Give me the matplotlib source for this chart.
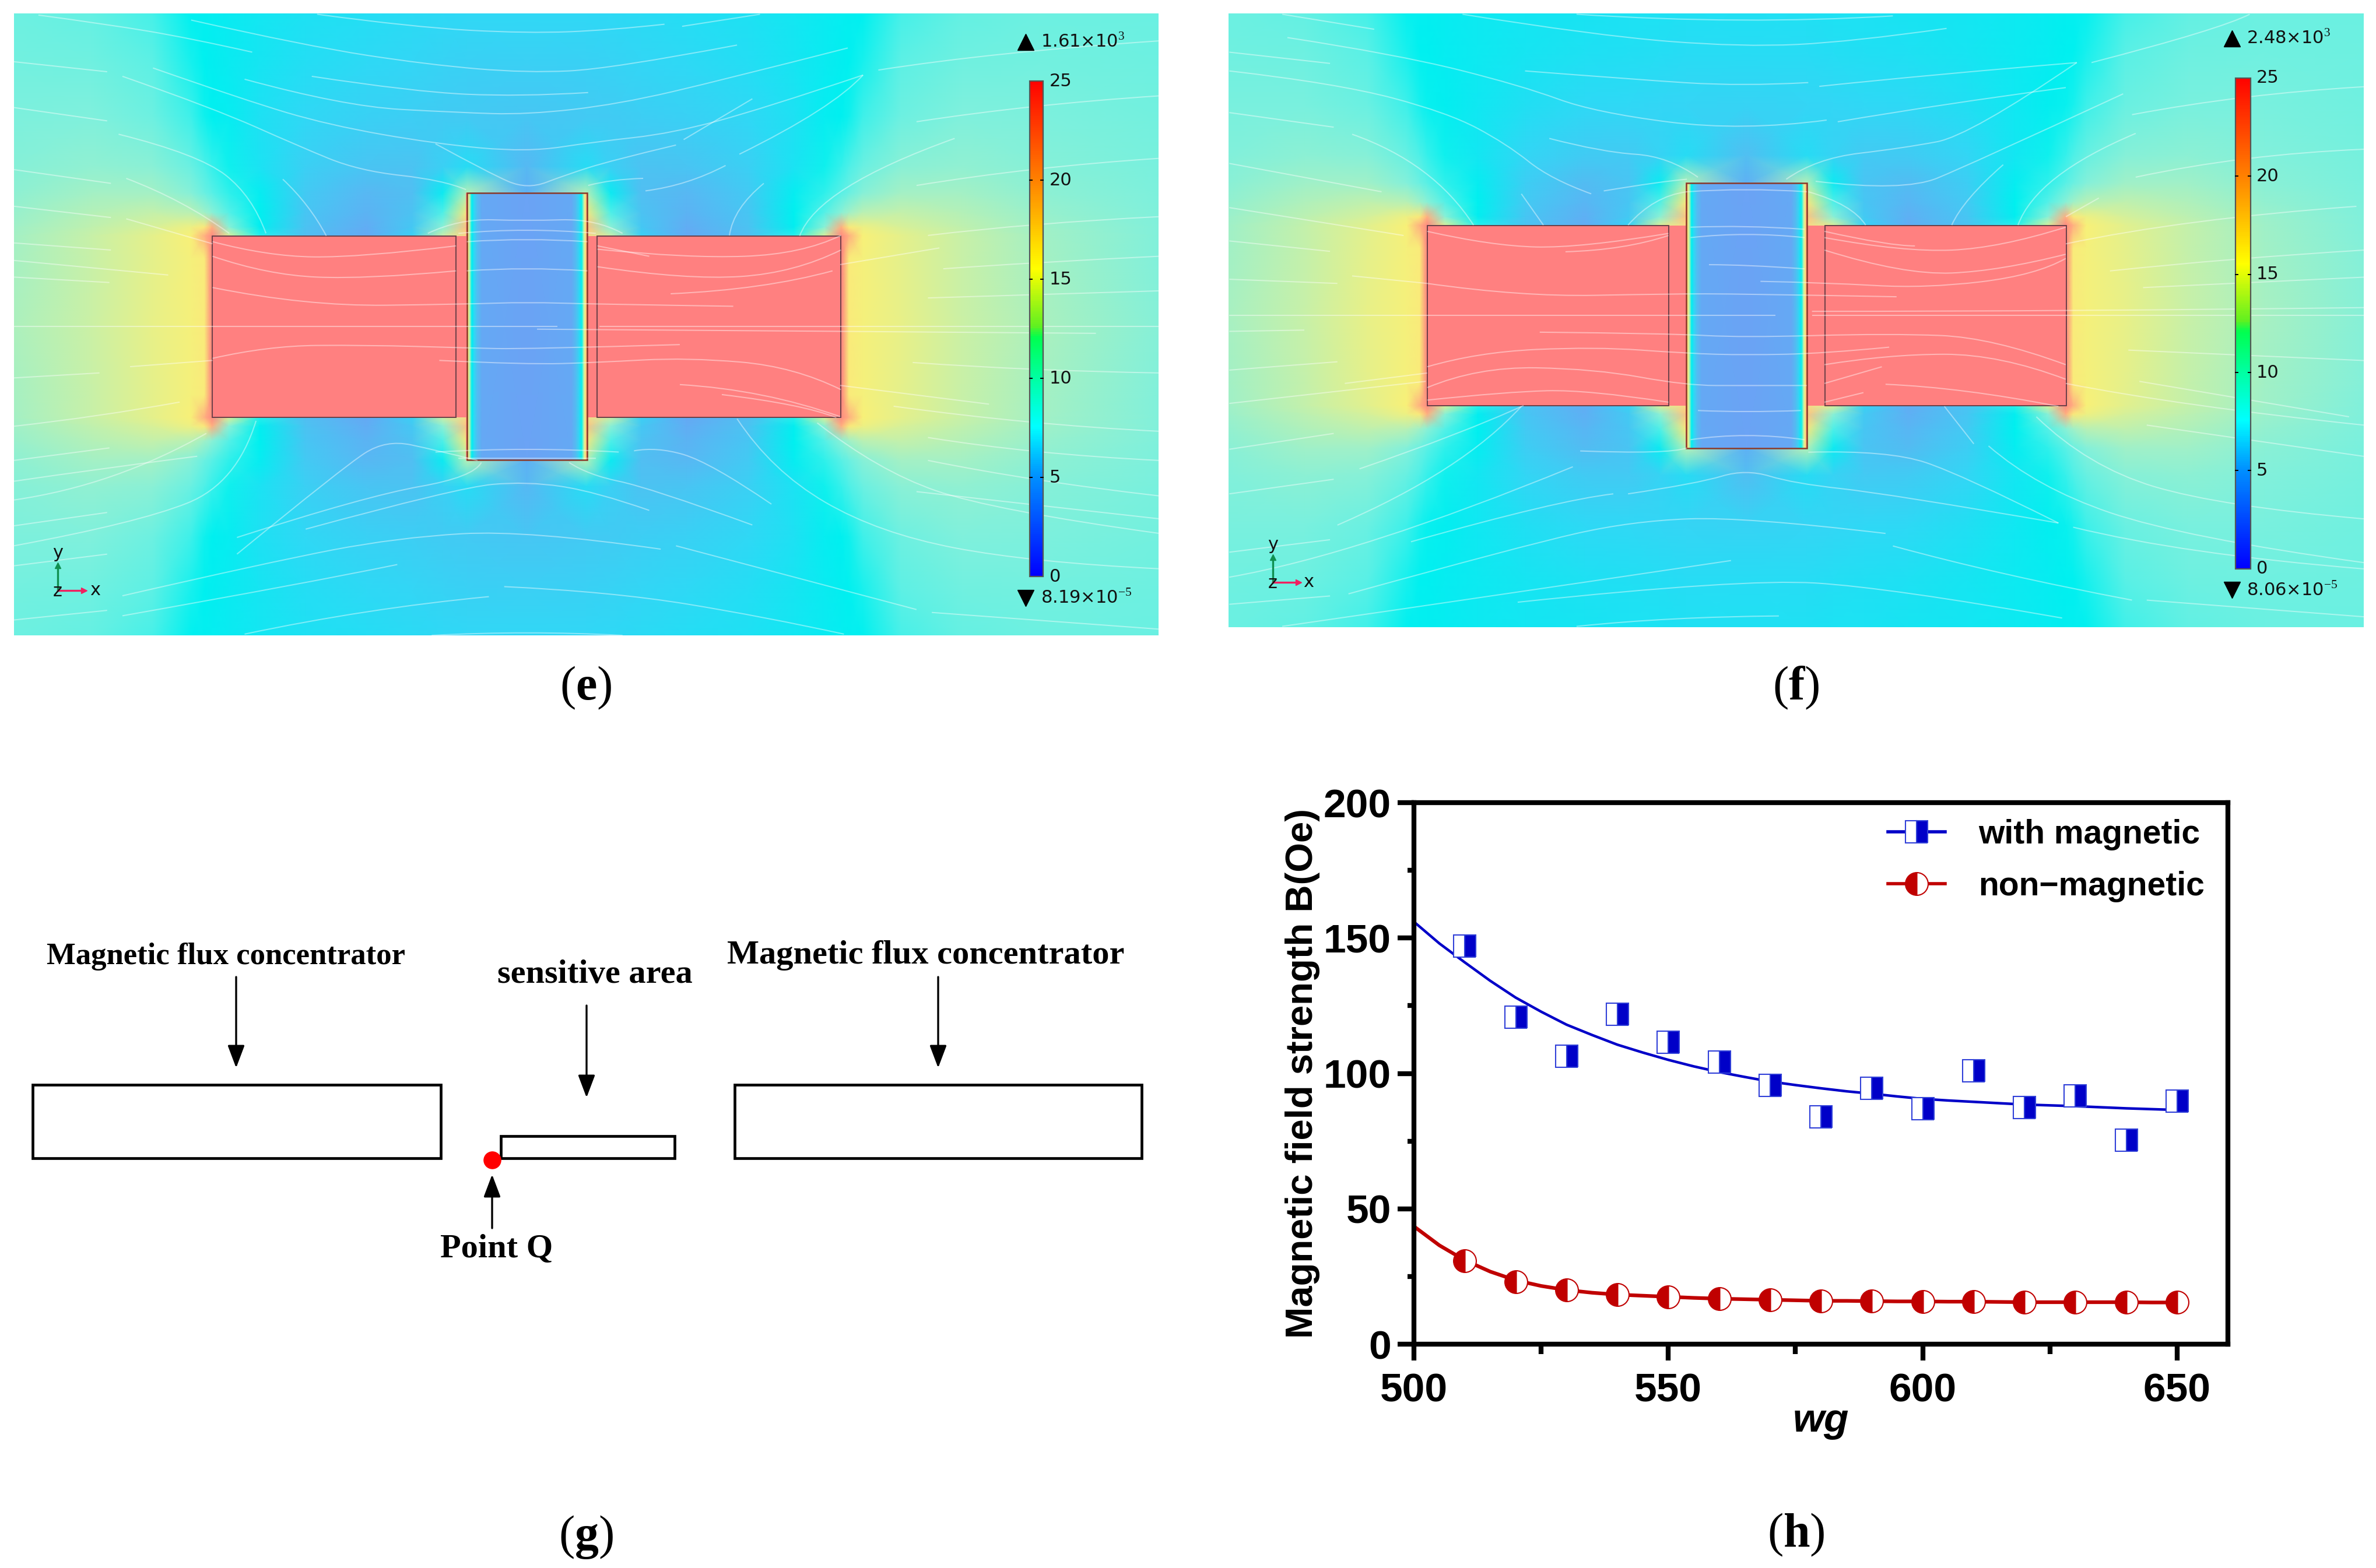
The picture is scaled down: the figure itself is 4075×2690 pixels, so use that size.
import numpy as np
import matplotlib
matplotlib.use("Agg")
import matplotlib.pyplot as plt
from matplotlib.colors import LinearSegmentedColormap
from matplotlib.lines import Line2D
from matplotlib.patches import Rectangle, PathPatch
from matplotlib.path import Path

W, H = 4075, 2690
plt.rcParams['mathtext.fontset'] = 'custom'
plt.rcParams['mathtext.rm'] = 'Liberation Serif'
plt.rcParams['mathtext.bf'] = 'Liberation Serif:bold'

# ---------- panel (h) data ----------
wg = [510, 520, 530, 540, 550, 560, 570, 580, 590, 600, 610, 620, 630, 640, 650]
with_magnetic = [147, 120.7, 106.4, 121.9, 111.6, 104.2, 95.6, 84, 94.6, 86.9, 100.9, 87.5, 91.8, 75.3, 89.7]
non_magnetic = [30.7, 23, 20, 18.3, 17.5, 16.8, 16.4, 16, 15.9, 15.8, 15.7, 15.5, 15.5, 15.5, 15.4]
fit_wg = [500, 505, 510, 515, 520, 525, 530, 535, 540, 545, 550, 555, 560, 565, 570, 575, 580, 585, 590, 595, 600, 605, 610, 615, 620, 625, 630, 635, 640, 645, 650]
fit_with = [156, 148, 141, 134.2, 128, 122.8, 118, 114.2, 110.6, 107.7, 105, 102.6, 100.5, 98.7, 97, 95.7, 94.5, 93.4, 92.5, 91.5, 90.6, 90, 89.5, 89, 88.5, 88.2, 87.9, 87.5, 87.1, 86.8, 86.5]
fit_non = [43.5, 36.5, 31, 26.8, 23.6, 21.5, 20, 19, 18.3, 17.9, 17.5, 17.1, 16.8, 16.6, 16.4, 16.2, 16, 16, 15.9, 15.8, 15.8, 15.7, 15.7, 15.6, 15.5, 15.5, 15.5, 15.5, 15.5, 15.4, 15.4]
x_ticks = [500, 550, 600, 650]
y_ticks = [0, 50, 100, 150, 200]

# ---------- panels (e)/(f) field grids: distance from centre -> field value ----------
e_dx = [0, 78, 110, 150, 210, 290, 350, 390, 412, 422, 440, 490, 570, 672, 828]
e_dy = [0, 164, 218, 239, 274, 321, 384, 504, 634, 752]
e_field = [
    [3, 20, 25, 25, 25, 25, 25, 25, 25, 16.8, 16.2, 15, 13.2, 11.6, 9.8],
    [3, 20, 25, 25, 25, 25, 25, 25, 25, 16.8, 16.2, 14.8, 13, 11.3, 9.6],
    [3, 18, 13, 5, 2.6, 4, 7.5, 14, 24, 20, 16.5, 14.8, 13, 11.2, 9.6],
    [3, 19, 10, 4.5, 2.8, 4.2, 6.9, 10, 20, 17, 15.5, 14, 12.6, 11, 9.6],
    [3, 17, 8, 4.2, 3.2, 4.4, 7, 8.2, 10, 11, 12.3, 12.8, 12, 10.6, 9.5],
    [3, 12, 6.6, 4, 3.5, 4.6, 6.8, 7.6, 8.3, 8.8, 9.8, 11.2, 11.2, 10.2, 9.4],
    [3.6, 5.8, 5, 4.2, 4.3, 5, 6.2, 7.2, 7.7, 8, 8.8, 10, 10.3, 9.8, 9.3],
    [4.4, 4.6, 4.7, 4.9, 5.1, 5.5, 6.1, 6.8, 7, 7.2, 7.8, 8.9, 9.5, 9.4, 9.1],
    [5, 5.1, 5.2, 5.4, 5.6, 5.9, 6.3, 6.7, 6.9, 7, 7.3, 8.4, 9, 9.1, 8.9],
    [5.5, 5.5, 5.6, 5.7, 5.9, 6.1, 6.4, 6.7, 6.85, 6.9, 7, 7.9, 8.6, 8.9, 8.8],
]
f_dx = [0, 82, 118, 160, 220, 300, 365, 410, 434, 444, 462, 515, 600, 704, 840]
f_dy = [0, 162, 216, 237, 272, 318, 384, 504, 634, 760]
f_field = [
    [3, 20, 25, 25, 25, 25, 25, 25, 25, 16.8, 16.2, 15, 13, 11.4, 9.8],
    [3, 20, 25, 25, 25, 25, 25, 25, 25, 16.8, 16.2, 14.8, 12.8, 11.1, 9.7],
    [3, 18, 14, 5.2, 2.8, 4.2, 7.5, 14, 24, 20, 16.5, 14.6, 12.8, 11, 9.5],
    [3, 19, 10, 4.6, 3, 4.4, 6.9, 10, 20, 17, 15.5, 13.8, 12.4, 10.8, 9.5],
    [3, 17, 8, 4.4, 3.4, 4.6, 7, 8.2, 10, 11, 12.2, 12.6, 11.8, 10.4, 9.4],
    [3, 12, 6.6, 4.3, 3.8, 4.9, 6.8, 7.6, 8.3, 8.8, 9.7, 11, 11, 10, 9.3],
    [4, 5.8, 5.2, 4.6, 4.7, 5.4, 6.4, 7.2, 7.7, 8, 8.7, 9.8, 10.1, 9.6, 9.2],
    [5.2, 5.3, 5.4, 5.5, 5.6, 6, 6.5, 6.9, 7.1, 7.3, 7.8, 8.8, 9.3, 9.3, 9],
    [5.8, 5.8, 5.9, 6, 6.1, 6.3, 6.6, 6.8, 7, 7, 7.3, 8.3, 8.9, 9, 8.9],
    [6.1, 6.1, 6.2, 6.2, 6.3, 6.4, 6.6, 6.8, 6.9, 6.9, 7, 7.8, 8.5, 8.8, 8.8],
]
strip_dx = [0, 58, 64, 68, 71, 74, 76, 78]
strip_field = [2.2, 2.6, 4, 5.5, 7, 13, 17, 25]

e_streams = [
    [(415,34),(540,65),(690,80),(800,72),(870,58)], [(893,63),(995,34)],
    [(250,48),(400,110),(560,155),(690,175),(800,165),(965,108)], [(50,36),(140,58),(250,92),(330,125)],
    [(408,183),(540,220),(680,232),(770,222)], [(320,190),(450,255),(600,270),(690,275),(810,250),(950,190),(1110,115)],
    [(200,163),(320,240),(430,300),(570,345),(690,365),(780,340),(880,320),(1000,260),(1130,180)],
    [(160,183),(280,260),(390,350),(470,410),(580,432),(610,455)], [(570,345),(640,415),(690,455),(740,420),(800,385),(885,348)],
    [(895,335),(985,237)], [(968,370),(1090,260),(1130,180)], [(845,458),(900,445),(950,397)], [(770,445),(800,430),(842,428)],
    [(18,148),(140,172)], [(18,258),(140,290)], [(18,407),(145,440)], [(18,495),(145,522)], [(18,583),(145,600)],
    [(18,625),(220,660)], [(18,665),(143,678)], [(18,907),(130,895)], [(170,880),(278,865)],
    [(18,1023),(130,1000),(235,965)], [(18,1105),(143,1075)], [(18,1155),(130,1125),(258,1095)],
    [(18,1200),(150,1165),(270,1040)], [(18,1262),(140,1230)], [(18,1310),(180,1255),(310,1160),(335,1010)],
    [(18,1358),(140,1330)], [(18,1488),(140,1465)], [(155,322),(260,370),(330,470),(348,560)],
    [(165,428),(240,480),(300,560)], [(370,430),(405,490),(427,566)], [(165,525),(278,585)],
    [(1150,168),(1300,125),(1517,98)], [(1200,292),(1350,250),(1517,230)], [(1200,445),(1350,400),(1517,380)],
    [(1215,565),(1350,535),(1517,520)], [(1235,645),(1350,630),(1517,615)], [(1100,635),(1230,595)],
    [(1000,440),(960,500),(955,565)], [(1047,566),(1070,450),(1250,332)], [(1215,715),(1517,698)],
    [(1195,870),(1350,890),(1517,895)], [(1170,975),(1350,1020),(1517,1035)], [(1100,925),(1295,970)],
    [(1215,1050),(1350,1090),(1517,1105)], [(1215,1105),(1350,1155),(1517,1190)], [(1200,1180),(1517,1245)],
    [(1070,1015),(1150,1130),(1300,1225),(1517,1280)], [(1220,1470),(1517,1510)], [(885,1310),(1050,1390),(1200,1463)],
    [(965,1005),(1010,1130),(1150,1280),(1350,1350),(1517,1365)], [(310,1330),(450,1120),(505,1055),(570,1080),(625,1105)],
    [(160,1430),(350,1350),(520,1290),(690,1272),(865,1318)], [(160,1478),(400,1400),(520,1355)],
    [(320,1522),(480,1460),(640,1432)], [(660,1408),(800,1420),(1000,1480),(1105,1522)], [(565,1525),(690,1513),(815,1525)],
    [(400,1270),(600,1170),(690,1155),(780,1180),(850,1225)], [(310,1290),(480,1190),(620,1145),(630,1110)],
    [(745,1110),(770,1140),(850,1170),(985,1260)], [(830,1082),(860,1072),(930,1110),(1010,1210)],
    [(278,580),(350,615),(470,618),(597,590)], [(278,615),(350,660),(480,670),(597,650)],
    [(278,690),(400,735),(611,730),(689,725),(780,730),(960,735)], [(18,784),(730,784)], [(703,790),(1100,795),(1435,800)],
    [(785,784),(1517,784)], [(278,860),(350,830),(480,828),(611,835),(689,838),(890,827)],
    [(575,865),(689,875),(782,870),(900,858),(1040,880),(1101,935)], [(890,923),(1000,935),(1100,1000)],
    [(945,947),(1050,970),(1095,1002)], [(782,590),(850,615)], [(782,598),(900,620),(1050,610),(1101,565)],
    [(782,640),(900,672),(1040,655),(1101,600)], [(878,705),(1000,695),(1090,650)],
    [(560,560),(600,525),(689,530),(780,525),(815,560)], [(600,560),(689,545),(780,560)], [(611,580),(689,570),(769,580)],
    [(611,650),(689,640),(769,650)], [(570,1085),(690,1072),(810,1085)], [(600,1100),(689,1100),(780,1100)],
]
f_streams = [
    [(475,34),(700,60),(905,38)], [(320,34),(500,85),(700,113),(850,100),(978,68)], [(75,34),(200,70)],
    [(82,90),(230,130),(400,205),(500,270),(700,315),(815,288)], [(805,207),(950,180),(1155,150)], [(405,170),(550,190),(700,207),(790,198)],
    [(830,292),(970,250),(1140,210)], [(3,170),(150,200),(300,270),(380,345),(440,430),(495,465)],
    [(170,322),(280,390),(335,540)], [(3,125),(140,152)], [(3,270),(145,305)], [(3,392),(210,460)], [(3,498),(240,565)],
    [(3,578),(140,603)], [(3,670),(150,680)], [(170,662),(272,680)], [(3,795),(105,792)], [(3,888),(150,868)],
    [(160,920),(272,895)], [(3,968),(270,915)], [(3,1078),(145,1040)], [(3,1185),(145,1150)],
    [(180,1125),(320,1040),(403,973)], [(150,1260),(320,1130),(400,975)], [(3,1325),(140,1295)],
    [(3,1385),(180,1330),(470,1120)], [(165,1425),(400,1310),(550,1250),(705,1240),(895,1280)], [(3,1450),(140,1430)],
    [(75,1503),(400,1420),(685,1345)], [(395,1445),(700,1388),(900,1410),(1135,1483)], [(475,1503),(600,1480),(750,1478)],
    [(905,1310),(1050,1380),(1230,1440)], [(1250,1440),(1545,1480)], [(545,1185),(640,1160),(705,1125),(770,1160),(900,1185),(1130,1255)],
    [(250,1300),(450,1200),(525,1185)], [(480,1082),(600,1090),(625,1075)], [(790,1085),(900,1080),(1000,1140),(1130,1255)],
    [(1035,1070),(1100,1170),(1300,1290),(1545,1350)], [(975,975),(1015,1065)], [(1100,1000),(1170,1120),(1350,1215),(1545,1245)],
    [(1175,150),(1350,70),(1390,34)], [(1230,275),(1380,225),(1545,208)], [(1235,425),(1380,370),(1545,358)],
    [(1140,585),(1300,525),(1535,495)], [(1200,650),(1360,620),(1545,600)], [(1245,690),(1545,665)],
    [(1225,840),(1545,865)], [(1240,915),(1525,1000)], [(1140,920),(1300,975),(1545,1020)], [(1250,1020),(1545,1095)],
    [(1150,1265),(1300,1330),(1545,1365)], [(438,332),(510,365),(600,375),(640,425)], [(760,430),(800,380),(920,355),(1010,325),(1155,150)],
    [(512,458),(590,435),(625,430)], [(800,435),(920,460),(1010,395),(1218,225)], [(1055,395),(1000,480),(985,540)],
    [(1075,540),(1100,420),(1235,320)], [(545,540),(580,470),(625,460)], [(790,460),(850,490),(868,540)], [(400,465),(430,540)],
    [(1185,475),(1140,520)], [(272,555),(360,590),(480,595),(600,560)], [(460,604),(540,600),(600,565)],
    [(812,555),(900,590),(935,590)], [(812,570),(920,605),(1050,595),(1140,545)], [(812,600),(920,660),(1050,650),(1140,610)],
    [(272,680),(400,712),(600,705),(700,705),(910,712)], [(655,635),(705,635),(785,645)], [(725,675),(812,678),(950,692),(1100,660),(1140,620)],
    [(3,757),(745,757)], [(795,747),(1150,747),(1545,738)], [(795,757),(1545,757)], [(425,797),(600,800),(700,810),(900,800),(1040,810),(1140,875)],
    [(272,880),(340,845),(500,832),(625,848),(705,852),(812,848),(900,833)], [(272,930),(340,880),(500,885),(624,925),(705,925),(788,925)],
    [(812,875),(900,850),(1050,850),(1140,910)], [(812,920),(890,880)], [(812,965),(865,942)], [(895,922),(1000,930),(1130,975)],
    [(272,960),(380,940),(490,935),(600,965)], [(640,985),(705,990),(780,985)], [(630,1055),(705,1035),(785,1055)],
    [(625,460),(705,450),(788,460)], [(630,545),(705,540),(785,550)], [(630,570),(705,555),(785,570)],
]

# ---------- colour scales ----------
BLEND_STOPS = [(0, '#7088F5'), (2, '#6EA0F5'), (4, '#50C0F2'), (5.5, '#30D8F5'), (7, '#00F0F0'), (8, '#50F0E8'),
               (9.5, '#80F0DC'), (11, '#A0F0C8'), (13, '#C8F0A8'), (15, '#E8F088'), (16.5, '#F8F078'),
               (18, '#FFD880'), (20, '#FFB080'), (25, '#FF8080')]
JET_STOPS = [(0, '#0000FF'), (5, '#0090FF'), (7.5, '#00FFFF'), (10, '#00FFA0'), (12, '#00FF50'), (12.6, '#60F020'),
             (15.5, '#FFFF00'), (20, '#FF8000'), (25, '#FF0000')]
blend = LinearSegmentedColormap.from_list('blend', [(v/25, c) for v, c in BLEND_STOPS], N=512)
jet = LinearSegmentedColormap.from_list('jetlike', [(v/25, c) for v, c in JET_STOPS], N=512)
bar_values = np.linspace(0, 25, 256)
bar_ticks = [0, 5, 10, 15, 20, 25]


def axes_px(fig, x0, y0, x1, y1):
    return fig.add_axes([x0/W, 1-y1/H, (x1-x0)/W, (y1-y0)/H])


def smooth_path(pts):
    pts = np.asarray(pts, float)
    if len(pts) < 3:
        return Path(pts)
    verts, codes = [pts[0]], [Path.MOVETO]
    for i in range(1, len(pts)-1):
        end = pts[i+1] if i == len(pts)-2 else (pts[i]+pts[i+1])/2
        verts += [pts[i], end]
        codes += [Path.CURVE3, Path.CURVE3]
    return Path(verts, codes)


def field_panel(fig, box, lims, c, dx, dy, field, mag, strip, streams, bar, tri, maxlabel, minlabel):
    ax = axes_px(fig, *box)
    cx, cy = c
    dx = np.array(dx, float); dy = np.array(dy, float); f = np.array(field, float)
    X = np.r_[cx-dx[:0:-1], cx+dx]
    Y = np.r_[cy-dy[:0:-1], cy+dy]
    Z = np.hstack([f[:, :0:-1], f])
    Z = np.vstack([Z[:0:-1], Z])
    ax.pcolormesh(X, Y, Z, cmap=blend, vmin=0, vmax=25, shading='gouraud', zorder=1)
    # centre strip
    sdx = np.array(strip_dx, float)*(strip[1]-strip[0])/2/78
    SX = np.r_[cx-sdx[:0:-1], cx+sdx]
    SZ = np.r_[strip_field[:0:-1], strip_field]
    SZ = np.vstack([SZ, SZ])
    ax.pcolormesh(SX, [strip[2], strip[3]], SZ, cmap=blend, vmin=0, vmax=25, shading='gouraud', zorder=2)
    ax.add_patch(Rectangle((strip[0], strip[2]), strip[1]-strip[0], strip[3]-strip[2], fc='none', ec='#8a3a2a', lw=1.8, zorder=4))
    for x0, x1 in [(mag[0], mag[1]), (mag[2], mag[3])]:
        ax.add_patch(Rectangle((x0, mag[4]), x1-x0, mag[5]-mag[4], fc='#FF8080', ec='none', zorder=2))
        ax.add_patch(Rectangle((x0, mag[4]), x1-x0, mag[5]-mag[4], fc='none', ec='#6a4048', lw=1.4, zorder=4))
    # gap between magnets and strip
    ax.add_patch(Rectangle((mag[1], mag[4]), strip[0]-mag[1], mag[5]-mag[4], fc='#FF8080', ec='none', zorder=2))
    ax.add_patch(Rectangle((strip[1], mag[4]), mag[2]-strip[1], mag[5]-mag[4], fc='#FF8080', ec='none', zorder=2))
    for s in streams:
        ax.add_patch(PathPatch(smooth_path(s), fc='none', ec='white', lw=1.5, alpha=0.42, zorder=5))
    # colour bar
    bx0, bx1, by0, by1 = bar
    yy = by1 - bar_values/25*(by1-by0)
    ax.pcolormesh([bx0, bx1], yy, bar_values[:-1, None], cmap=jet, vmin=0, vmax=25, shading='flat', zorder=6)
    ax.add_patch(Rectangle((bx0, by0), bx1-bx0, by1-by0, fc='none', ec='#555555', lw=1.6, zorder=7))
    for t in bar_ticks:
        y = by1 - t/25*(by1-by0)
        if 0 < t < 25:
            ax.plot([bx0, bx0+3], [y, y], color='k', lw=1.4, zorder=8)
            ax.plot([bx1-3, bx1], [y, y], color='k', lw=1.4, zorder=8)
        ax.text(bx1+8, y, str(t), fontsize=22, family='DejaVu Sans', va='center', ha='left', zorder=8, color='#111111')
    ax.plot([bx0-5], [by0-95], marker='^', ms=20, color='k', zorder=8, ls='none')
    ax.plot([bx0-5], [by1+51], marker='v', ms=20, color='k', zorder=8, ls='none')
    ax.text(bx0+15, by0-95, maxlabel, fontsize=22, family='DejaVu Sans', va='center', ha='left', zorder=8, color='#111111')
    ax.text(bx0+15, by1+51, minlabel, fontsize=22, family='DejaVu Sans', va='center', ha='left', zorder=8, color='#111111')
    # triad
    tx, ty = tri
    ax.plot([tx, tx], [ty, ty-60], color='#109050', lw=2.4, zorder=8)
    ax.plot([tx], [ty-60], marker='^', ms=7, color='#109050', zorder=8)
    ax.plot([tx, tx+35], [ty, ty], color='#F02060', lw=2.4, zorder=8)
    ax.plot([tx+35], [ty], marker='>', ms=7, color='#F02060', zorder=8)
    ax.text(tx, ty-90, 'y', fontsize=22, family='DejaVu Sans', ha='center', va='center', zorder=8, color='#111111')
    ax.text(tx+49, ty, 'x', fontsize=22, family='DejaVu Sans', ha='center', va='center', zorder=8, color='#111111')
    ax.text(tx, ty+2, 'z', fontsize=22, family='DejaVu Sans', ha='center', va='center', zorder=9, color='#111111')
    ax.set_xlim(lims[0], lims[1]); ax.set_ylim(lims[3], lims[2])
    ax.axis('off')
    return ax


fig = plt.figure(figsize=(W/100, H/100), dpi=100, facecolor='white')

field_panel(fig, (24, 23, 1987, 1090), (18, 1517, 32, 1525), (689.5, 784), e_dx, e_dy, e_field,
            (278, 597, 782, 1101, 566, 1002), (611, 769, 463, 1104), e_streams,
            (1348, 1366, 195, 1384), (75, 1417), '1.61×10$^{3}$', '8.19×10$^{-5}$')
field_panel(fig, (2107, 23, 4054, 1076), (2, 1545, 32, 1505), (706, 757), f_dx, f_dy, f_field,
            (272, 600, 813, 1141, 541, 973), (624, 788, 439, 1075), f_streams,
            (1371, 1391, 187, 1365), (62, 1397), '2.48×10$^{3}$', '8.06×10$^{-5}$')

# overlay in pixel units for schematic (g) and captions
ov = fig.add_axes([0, 0, 1, 1], facecolor='none')
ov.set_xlim(0, W); ov.set_ylim(H, 0); ov.axis('off')
for (x0, x1, y0, y1) in [(56, 756, 1861, 1987), (859, 1157, 1949, 1987), (1260, 1958, 1861, 1987)]:
    ov.add_patch(Rectangle((x0, y0), x1-x0, y1-y0, fc='white', ec='k', lw=3.4))
for x, y0, y1 in [(405, 1676, 1832), (1006, 1725, 1883), (1609, 1676, 1832), (844, 2107, 2015)]:
    ov.annotate('', xy=(x, y1), xytext=(x, y0),
                arrowprops=dict(arrowstyle='-|>,head_length=0.85,head_width=0.32', lw=2.4, color='k', shrinkA=0, shrinkB=0, mutation_scale=28))
ov.plot([844], [1990], marker='o', ms=21, color='#FF0000', mec='#FF0000')
for x, y, s, fs in [(388, 1641, 'Magnetic flux concentrator', 38), (1588, 1639, 'Magnetic flux concentrator', 42),
                    (1020, 1672, 'sensitive area', 42), (852, 2143, 'Point Q', 42)]:
    ov.text(x, y, s, family='Liberation Serif', weight='bold', fontsize=fs, ha='center', va='center', color='k')
for x, y, s in [(1005, 1180, r'$\mathrm{(}\mathbf{e}\mathrm{)}$'), (3080, 1180, r'$\mathrm{(}\mathbf{f}\mathrm{)}$'),
                (1005, 2637, r'$\mathrm{(}\mathbf{g}\mathrm{)}$'), (3080, 2633, r'$\mathrm{(}\mathbf{h}\mathrm{)}$')]:
    ov.text(x, y, s, fontsize=59, ha='center', va='center', color='k')

# panel (h)
ax = axes_px(fig, 2425, 1377, 3821, 2306)
BLUE, RED = '#0000C8', '#C00000'
ax.plot(fit_wg, fit_with, color=BLUE, lw=3.2, zorder=2, clip_on=True)
ax.plot(fit_wg, fit_non, color=RED, lw=4.5, zorder=2)
ax.plot(wg, with_magnetic, ls='none', marker='s', ms=28, fillstyle='right', mfc=BLUE, mec='#3040D8', mew=1.5,
        markerfacecoloralt='white', zorder=3)
ax.plot(wg, non_magnetic, ls='none', marker='o', ms=28, fillstyle='left', mfc=RED, mec=RED, mew=1.5,
        markerfacecoloralt='white', zorder=3)
ax.set_xlim(500, 660); ax.set_ylim(0, 200)
ax.set_xticks(x_ticks); ax.set_xticklabels([str(v) for v in x_ticks])
ax.set_yticks(y_ticks); ax.set_yticklabels([str(v) for v in y_ticks])
ax.set_xticks([525, 575, 625], minor=True); ax.set_yticks([25, 75, 125, 175], minor=True)
for s in ax.spines.values():
    s.set_linewidth(6)
ax.tick_params(which='major', length=20, width=6, labelsize=50)
ax.tick_params(axis='y', which='major', pad=8)
ax.tick_params(axis='x', which='major', pad=15)
ax.tick_params(axis='x', which='minor', length=12, width=6)
ax.tick_params(axis='y', which='minor', length=8, width=6)
for t in ax.get_xticklabels()+ax.get_yticklabels():
    t.set_family('Liberation Sans'); t.set_weight('bold')
ax.set_xlabel('wg', family='Liberation Sans', weight='bold', style='italic', fontsize=50, labelpad=-9)
ax.set_ylabel('Magnetic field strength B(Oe)', family='Liberation Sans', weight='bold', fontsize=47, labelpad=4)
handles = [Line2D([], [], color=BLUE, lw=4, marker='s', ms=28, fillstyle='right', mfc=BLUE, mec='#3040D8', mew=1.5, markerfacecoloralt='white'),
           Line2D([], [], color=RED, lw=4, marker='o', ms=28, fillstyle='left', mfc=RED, mec=RED, mew=1.5, markerfacecoloralt='white')]
ax.legend(handles, ['with magnetic', 'non−magnetic'], loc='upper right', bbox_to_anchor=(1.0, 1.013), frameon=False,
          prop={'family': 'Liberation Sans', 'weight': 'bold', 'size': 41}, handlelength=1.72, handletextpad=1.0,
          labelspacing=0.62, borderpad=0.2, numpoints=1)

fig.savefig('out.png', dpi=100, facecolor='white')
